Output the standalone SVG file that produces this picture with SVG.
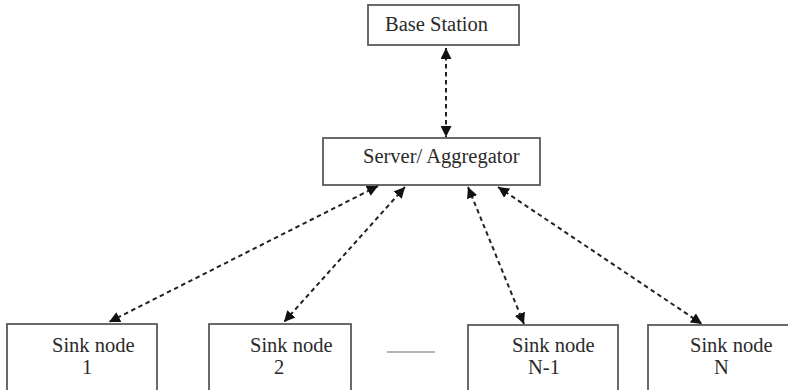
<svg xmlns="http://www.w3.org/2000/svg" width="788" height="390" viewBox="0 0 788 390">
  <defs>
    <marker id="head" viewBox="0 0 10 10" refX="10" refY="5" markerWidth="11" markerHeight="11" markerUnits="userSpaceOnUse" orient="auto-start-reverse">
      <path d="M0,0 L10,5 L0,10 Z" fill="#111"/>
    </marker>
    <style>
      .box { fill: #fff; stroke: #5a5a5a; stroke-width: 1.8; }
      .lbl { font-family: "Liberation Serif", "Times New Roman", serif; font-size: 20.5px; fill: #2a2a2a; }
      .link { fill: none; stroke: #222; stroke-width: 2; stroke-dasharray: 4.5 3.5; marker-start: url(#head); marker-end: url(#head); }
    </style>
  </defs>
  <rect width="788" height="390" fill="#fff"/>

  <g id="base-station">
    <rect class="box" x="368" y="5" width="151" height="40"/>
    <text class="lbl" x="385" y="31">Base Station</text>
  </g>

  <g id="server">
    <rect class="box" x="323" y="138" width="217" height="47"/>
    <text class="lbl" x="363" y="163">Server/ Aggregator</text>
  </g>

  <g id="sink-1">
    <rect class="box" x="7" y="324" width="150" height="70"/>
    <text class="lbl" x="52" y="352">Sink node</text>
    <text class="lbl" x="82" y="374">1</text>
  </g>

  <g id="sink-2">
    <rect class="box" x="209" y="324" width="142" height="70"/>
    <text class="lbl" x="250" y="352">Sink node</text>
    <text class="lbl" x="274" y="374">2</text>
  </g>

  <g id="sink-n-1">
    <rect class="box" x="468" y="325" width="150" height="70"/>
    <text class="lbl" x="512" y="352">Sink node</text>
    <text class="lbl" x="528" y="374">N-1</text>
  </g>

  <g id="sink-n">
    <rect class="box" x="648" y="325" width="150" height="70"/>
    <text class="lbl" x="690" y="352">Sink node</text>
    <text class="lbl" x="714" y="374">N</text>
  </g>

  <!-- ellipsis between the middle sinks -->
  <line x1="387" y1="352" x2="435" y2="352" stroke="#6a6a6a" stroke-width="1.2"/>

  <g id="connectors">
    <line class="link" x1="446" y1="48" x2="446" y2="137"/>
    <line class="link" x1="378" y1="186" x2="109" y2="322"/>
    <line class="link" x1="405" y1="187" x2="284" y2="322"/>
    <line class="link" x1="468" y1="187" x2="524" y2="324"/>
    <line class="link" x1="498" y1="187" x2="702" y2="324"/>
  </g>
</svg>
